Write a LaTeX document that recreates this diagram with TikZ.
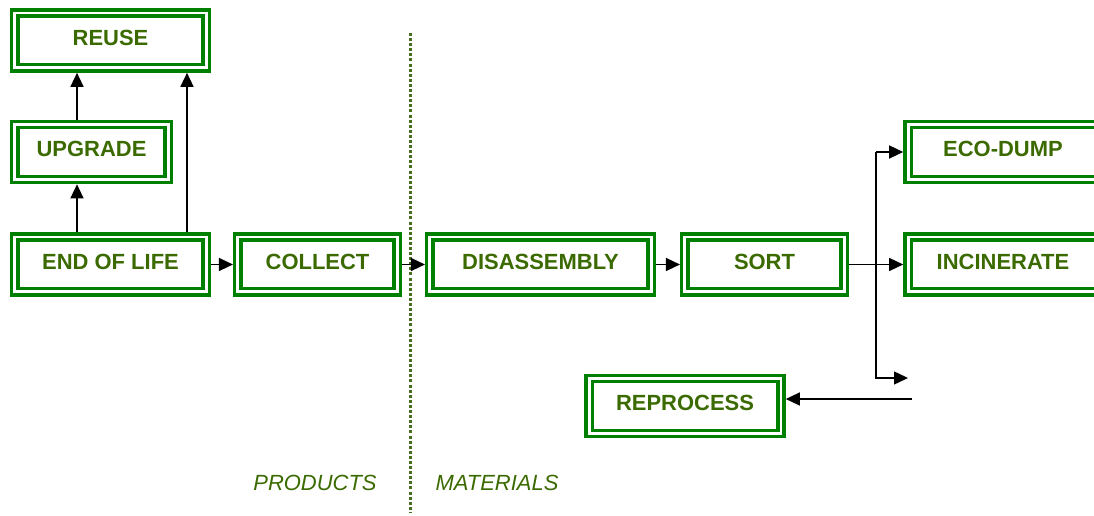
\documentclass[tikz,border=0pt]{standalone}
\usepackage{fontspec}
\setmainfont{Liberation Sans}
\usetikzlibrary{arrows.meta}
\definecolor{boxgreen}{RGB}{0,128,0}
\definecolor{txtgreen}{RGB}{58,106,0}
\definecolor{divgreen}{RGB}{70,110,30}

\begin{document}
\begin{tikzpicture}[x=0.02cm,y=-0.02cm,
    stage/.style={draw=boxgreen,double=white,line width=1.9pt,double distance=1.7pt,
      outer sep=2.75pt,minimum height=1.1cm,text=txtgreen,text depth=0.12cm,
      font=\fontsize{12.5}{15}\selectfont\bfseries},
    flow/.style={-{Triangle[length=0.28cm,width=0.26cm]},line width=0.8pt,black},
    side/.style={text=txtgreen,font=\fontsize{12.5}{15}\selectfont\itshape}]
  \useasboundingbox (0,0) rectangle (1094,516);
  \clip (0,0) rectangle (1094,516);

  % product side
  \node[stage,minimum width=3.83cm] (reuse) at (110.5,40.5) {REUSE};
  \node[stage,minimum width=3.07cm] (upgrade) at (91.5,152) {UPGRADE};
  \node[stage,minimum width=3.83cm] (eol) at (110.5,264.5) {END OF LIFE};
  \node[stage,minimum width=3.19cm] (collect) at (317.5,264.5) {COLLECT};

  % material side, last column runs off the right edge
  \node[stage,minimum width=4.43cm] (disasm) at (540.5,264.5) {DISASSEMBLY};
  \node[stage,minimum width=3.19cm] (sort) at (764.5,264.5) {SORT};
  \node[stage,minimum width=4.2cm] (eco) at (1013,152) {ECO-DUMP\hspace*{0.4cm}};
  \node[stage,minimum width=4.2cm] (incin) at (1013,264.5) {INCINERATE\hspace*{0.4cm}};
  \node[stage,minimum width=3.84cm] (reproc) at (685,406) {REPROCESS};

  \node[side] (products) at (315,483) {PRODUCTS};
  \node[side] (materials) at (497,483) {MATERIALS};

  % divider
  \coordinate (divtop) at (410,33);
  \coordinate (divbot) at (410,512);
  \draw[divgreen,line width=1.7pt,dash pattern=on 1.7pt off 1.2pt] (divtop) -- (divbot);

  \draw[flow] (upgrade.north) ++(-14.5,0) coordinate (u) -- (u |- reuse.south);
  \draw[flow] (eol.north -| u) -- (u |- upgrade.south);
  \draw[flow] (eol.north) ++(76.5,0) coordinate (e) -- (e |- reuse.south);
  \draw[flow] (eol) -- (collect);
  \draw[flow] (collect) -- (disasm);
  \draw[flow] (disasm) -- (sort);
  \draw[flow] (sort.east) -- (sort.east -| incin.west);

  \path (sort.east) -- (incin.west) coordinate[pos=0.5] (split);
  \coordinate (rest) at (908,378);
  \coordinate (back) at (912,399);
  \draw[flow] (split |- eco.west) -- (eco.west);
  \draw[flow] (split |- eco.west) -- (split |- rest) -- (rest);
  \draw[flow] (back) -- (back -| reproc.east);
\end{tikzpicture}
\end{document}
